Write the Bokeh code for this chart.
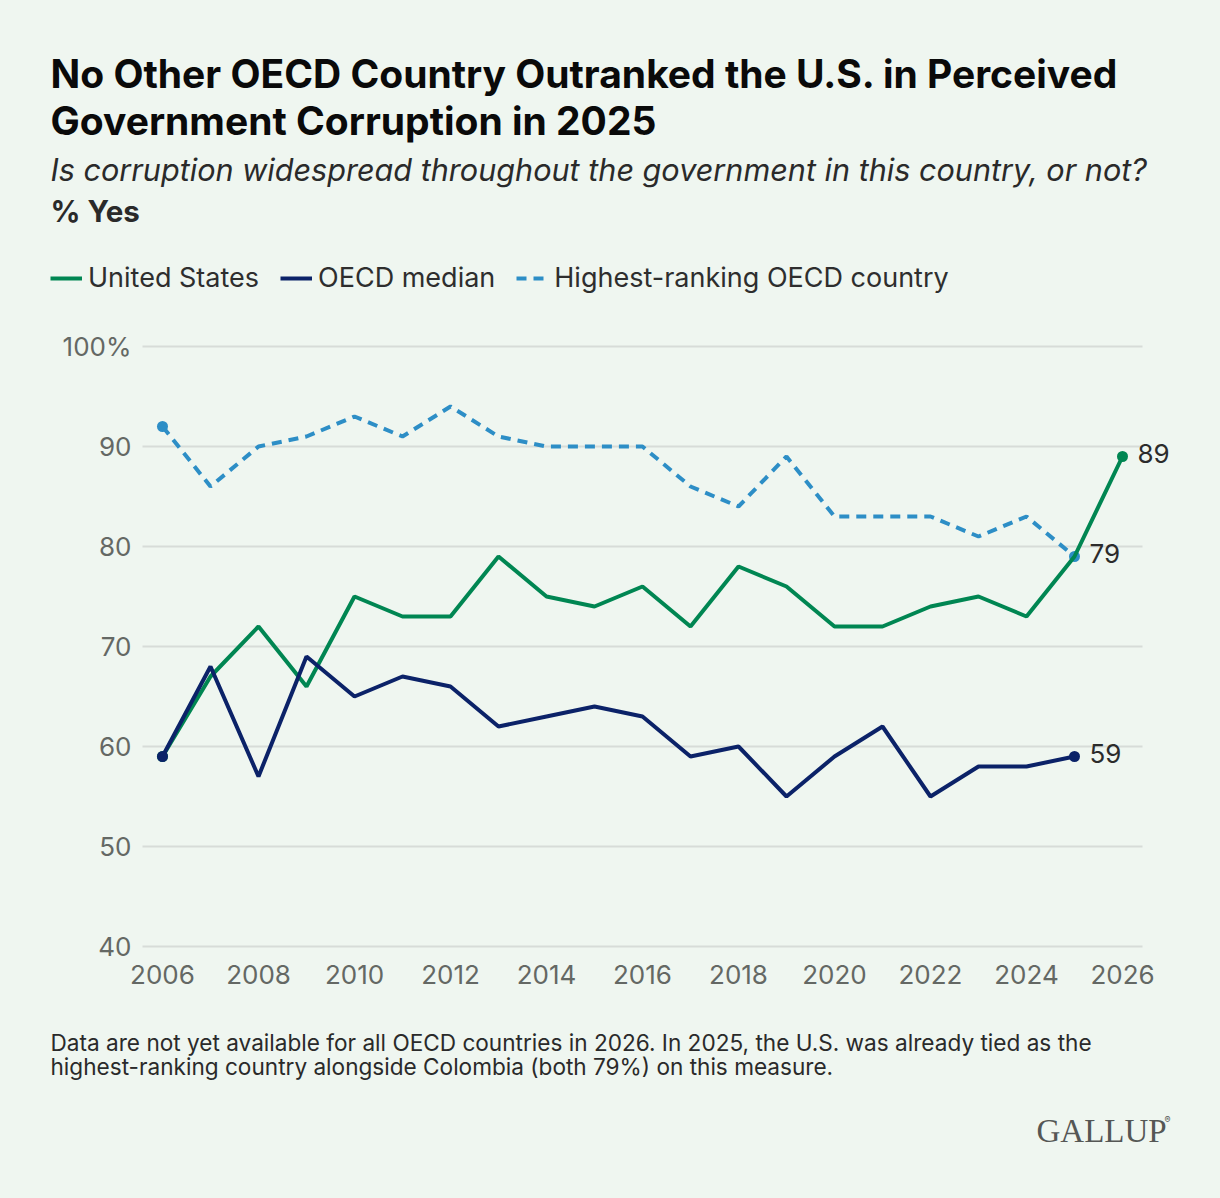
from bokeh.plotting import figure
from bokeh.models import (ColumnDataSource, Label, LabelSet, Legend, LegendItem,
                          FixedTicker, Range1d)
from bokeh.embed import file_html
from bokeh.resources import INLINE
from bokeh.core.properties import value

# ---- data ----
years_us = list(range(2006, 2027))
us = [59, 67, 72, 66, 75, 73, 73, 79, 75, 74, 76, 72, 78, 76, 72, 72, 74, 75, 73, 79, 89]
years_oecd = list(range(2006, 2026))
oecd_median = [59, 68, 57, 69, 65, 67, 66, 62, 63, 64, 63, 59, 60, 55, 59, 62, 55, 58, 58, 59]
highest = [92, 86, 90, 91, 93, 91, 94, 91, 90, 90, 90, 86, 84, 89, 83, 83, 83, 81, 83, 79]
x_ticks = list(range(2006, 2027, 2))
y_ticks = [40, 50, 60, 70, 80, 90, 100]
y_tick_labels = ["40", "50", "60", "70", "80", "90", "100%"]
series_names = ["United States", "OECD median", "Highest-ranking OECD country"]

title_lines = ["No Other OECD Country Outranked the U.S. in Perceived",
               "Government Corruption in 2025"]
subtitle = "Is corruption widespread throughout the government in this country, or not?"
unit_label = "% Yes"
notes = ["Data are not yet available for all OECD countries in 2026. In 2025, the U.S. was already tied as the",
         "highest-ranking country alongside Colombia (both 79%) on this measure."]
brand = "GALLUP"

# ---- style ----
BG = "#EFF6F0"
GREEN = "#008652"
NAVY = "#0B2268"
BLUE = "#2D8EC6"
FONT = "Inter"
W, H = 1220, 1198
LW = 4
DASH = "10 7"

# plot geometry (page px): 2006 at x=162, 48 px / year; 100 at y=346, 10 px / point
X0_PX, X_PER = 162, 48
Y100_PX, Y_PER = 346, 10
x_lo = 2006 - X0_PX / X_PER
x_hi = 2006 + (W - X0_PX) / X_PER
y_hi = 100 + Y100_PX / Y_PER
y_lo = 100 - (H - Y100_PX) / Y_PER
grid_left = 2006 - 20 / X_PER
grid_right = 2026 + 20 / X_PER

p = figure(width=W, height=H, output_backend="svg", toolbar_location=None,
           x_range=Range1d(x_lo, x_hi), y_range=Range1d(y_lo, y_hi),
           min_border=0, background_fill_color=BG, border_fill_color=BG,
           outline_line_color=None)
p.title.visible = False

p.xgrid.visible = False
p.ygrid.ticker = FixedTicker(ticks=y_ticks)
p.ygrid.grid_line_color = "#D7DCD8"
p.ygrid.grid_line_width = 2
p.ygrid.cross_bounds = (grid_left, grid_right)

p.xaxis.ticker = FixedTicker(ticks=x_ticks)
p.yaxis.ticker = FixedTicker(ticks=y_ticks)
p.yaxis.major_label_overrides = {t: l for t, l in zip(y_ticks, y_tick_labels)}
p.xaxis.fixed_location = y_ticks[0] - 0.5
p.yaxis.fixed_location = grid_left
for ax in (p.xaxis, p.yaxis):
    ax.axis_line_color = None
    ax.major_tick_line_color = None
    ax.minor_tick_line_color = None
    ax.major_tick_out = 0
    ax.major_tick_in = 0
    ax.major_label_text_font = FONT
    ax.major_label_text_font_size = "26px"
    ax.major_label_text_color = "#646864"
p.yaxis.major_label_standoff = 11
p.xaxis.major_label_standoff = 13

r_hi = p.line(years_oecd, highest, line_color=BLUE, line_width=LW, line_dash=DASH)
p.scatter([years_oecd[0], years_oecd[-1]], [highest[0], highest[-1]], size=11,
          fill_color=BLUE, line_color=None)
r_us = p.line(years_us, us, line_color=GREEN, line_width=LW)
p.scatter([years_us[0], years_us[-1]], [us[0], us[-1]], size=11,
          fill_color=GREEN, line_color=None)
r_med = p.line(years_oecd, oecd_median, line_color=NAVY, line_width=LW)
p.scatter([years_oecd[0], years_oecd[-1]], [oecd_median[0], oecd_median[-1]], size=11,
          fill_color=NAVY, line_color=None)

end_src = ColumnDataSource(dict(
    x=[years_us[-1], years_oecd[-1], years_oecd[-1]],
    y=[us[-1], highest[-1], oecd_median[-1]],
    text=[str(us[-1]), str(highest[-1]), str(oecd_median[-1])]))
p.add_layout(LabelSet(x="x", y="y", text="text", source=end_src, x_offset=15, y_offset=3,
                      text_baseline="middle", text_align="left",
                      text_font=value(FONT), text_font_size="26px",
                      text_color="#2B2B2B"))

legend = Legend(items=[LegendItem(label=series_names[0], renderers=[r_us]),
                       LegendItem(label=series_names[1], renderers=[r_med]),
                       LegendItem(label=series_names[2], renderers=[r_hi])],
                orientation="horizontal", location=(50, H - 294),
                label_text_font=FONT, label_text_font_size="27px",
                label_text_color="#2E2E2E", glyph_width=32, glyph_height=26,
                label_height=26, label_standoff=6, spacing=21, padding=0, margin=0,
                background_fill_alpha=0, border_line_color=None)
p.add_layout(legend)


def add_text(text, px, py, size, style="normal", color="#111111", font=FONT, align="left"):
    p.add_layout(Label(x=px, y=H - py, x_units="screen", y_units="screen",
                       text=text, text_font=font, text_font_size=size, text_font_style=style,
                       text_color=color, text_baseline="middle", text_align=align))


add_text(title_lines[0], 50, 73, "39px", "bold", "#0A0A0A")
add_text(title_lines[1], 50, 120, "39px", "bold", "#0A0A0A")
add_text(subtitle, 50, 169, "30.6px", "italic", "#2A2A2A")
add_text(unit_label, 50, 210, "29.5px", "bold", "#2A2A2A")
add_text(notes[0], 50, 1042, "22.6px", "normal", "#2A2A2A")
add_text(notes[1], 50, 1066, "22.6px", "normal", "#2A2A2A")
add_text(brand, 1036, 1130, "33px", "normal", "#555755", font="Liberation Serif")
add_text("®", 1164, 1119, "9px", "normal", "#555755")

html = file_html(p, INLINE)
html = html.replace("<head>", "<head><style>html,body{background:%s;}</style>" % BG, 1)
open("out.html", "w").write(html)
